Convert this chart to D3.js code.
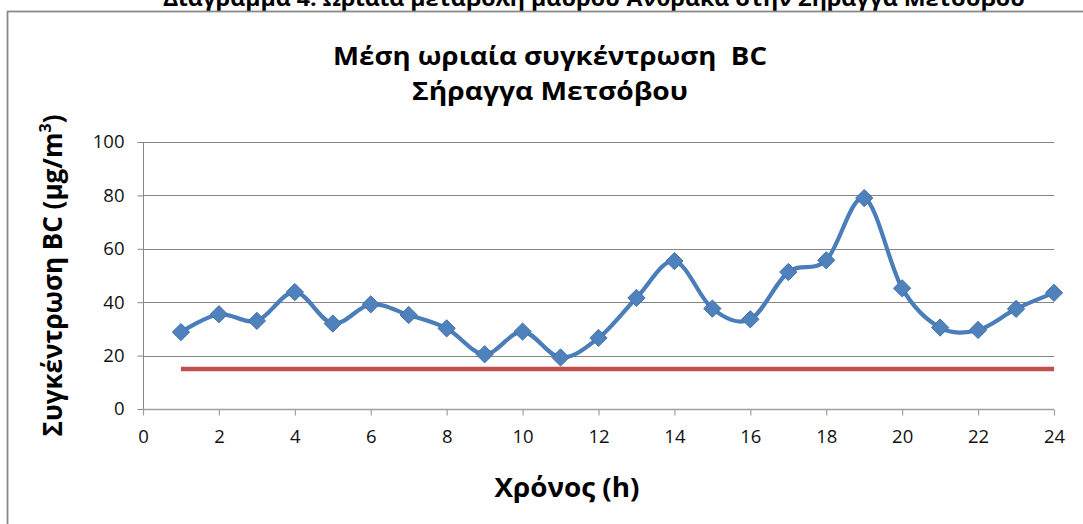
<!DOCTYPE html>
<html>
<head>
<meta charset="utf-8">
<script src="https://cdn.jsdelivr.net/npm/d3@7"></script>
<style>
  html, body { margin: 0; padding: 0; background: #fff; }
  svg { display: block; }
  text { font-family: "Open Sans", "Noto Sans", "DejaVu Sans", sans-serif; white-space: pre; }
</style>
</head>
<body>
<svg id="chart" width="1083" height="524"></svg>
<script>
// ---- data ----
const hours = [1, 2, 3, 4, 5, 6, 7, 8, 9, 10, 11, 12, 13, 14, 15, 16, 17, 18, 19, 20, 21, 22, 23, 24];
const bcValues = [28.8, 35.5, 33.0, 43.8, 32.0, 39.2, 35.2, 30.2, 20.5, 29.0, 19.3, 26.6,
                  41.6, 55.4, 37.6, 33.6, 51.3, 55.7, 79.0, 45.2, 30.5, 29.6, 37.5, 43.5];
const limitValues = [15, 15, 15, 15, 15, 15, 15, 15, 15, 15, 15, 15,
                     15, 15, 15, 15, 15, 15, 15, 15, 15, 15, 15, 15];
const xTicks = [0, 2, 4, 6, 8, 10, 12, 14, 16, 18, 20, 22, 24];
const yTicks = [0, 20, 40, 60, 80, 100];
const headerText = "Διάγραμμα 4. Ωριαία μεταβολή μαύρου Άνθρακα στην Σήραγγα Μετσόβου";
const titleLines = ["Μέση ωριαία συγκέντρωση  BC", "Σήραγγα Μετσόβου"];
const xTitle = "Χρόνος (h)";
const yTitle = "Συγκέντρωση BC (μg/m";

// ---- layout ----
const svg = d3.select("#chart");
const plot = { left: 143, right: 1054, top: 142, bottom: 409 };

const x = d3.scaleLinear().domain([0, 24]).range([plot.left, plot.right]);
const y = d3.scaleLinear().domain([0, 100]).range([plot.bottom, plot.top]);

// header (cut off at top of image, as in the source)
svg.append("text")
  .attr("x", 594).attr("y", 6)
  .attr("text-anchor", "middle")
  .attr("font-size", 21).attr("font-weight", "bold")
  .attr("fill", "#000")
  .attr("textLength", 862).attr("lengthAdjust", "spacingAndGlyphs")
  .text(headerText);

// chart area border
svg.append("rect")
  .attr("x", 7.5).attr("y", 11.5)
  .attr("width", 1200).attr("height", 700)
  .attr("fill", "#fff")
  .attr("stroke", "#8a8a8a").attr("stroke-width", 1.8);

// gridlines
svg.append("g")
  .selectAll("line")
  .data(yTicks.filter(d => d > 0))
  .join("line")
  .attr("x1", plot.left).attr("x2", plot.right)
  .attr("y1", d => Math.round(y(d)) + 0.5).attr("y2", d => Math.round(y(d)) + 0.5)
  .attr("stroke", "#868686").attr("stroke-width", 1);

// y axis
const yAxis = d3.axisLeft(y).tickValues(yTicks).tickSize(6).tickPadding(13).tickFormat(d3.format("d"));
const gy = svg.append("g").attr("transform", `translate(${plot.left + 0.5},0)`).call(yAxis);
gy.select(".domain").attr("stroke", "#868686").attr("d", `M0,${plot.top}V${plot.bottom}`);
gy.selectAll(".tick line").attr("stroke", "#868686");
gy.selectAll(".tick text").attr("font-size", 18.5).attr("fill", "#111")
  .attr("font-family", "\"Open Sans\", sans-serif");

// x axis
const xAxis = d3.axisBottom(x).tickValues(xTicks).tickSize(6).tickPadding(14).tickFormat(d3.format("d"));
const gx = svg.append("g").attr("transform", `translate(0,${plot.bottom + 0.5})`).call(xAxis);
gx.select(".domain").attr("stroke", "#a0a0a0").attr("stroke-width", 1.5).attr("d", `M${plot.left},0H${plot.right}`);
gx.selectAll(".tick line").attr("stroke", "#a0a0a0").attr("stroke-width", 1.2);
gx.selectAll(".tick text").attr("font-size", 18.5).attr("fill", "#111")
  .attr("font-family", "\"Open Sans\", sans-serif");

// limit line
const limitLine = d3.line().x((d, i) => x(hours[i])).y(d => y(d));
svg.append("path")
  .datum(limitValues)
  .attr("d", limitLine)
  .attr("fill", "none")
  .attr("stroke", "#C0504D").attr("stroke-width", 4.5);

// BC smooth line
const bcLine = d3.line().x((d, i) => x(hours[i])).y(d => y(d)).curve(d3.curveCardinal.tension(0));
svg.append("path")
  .datum(bcValues)
  .attr("d", bcLine)
  .attr("fill", "none")
  .attr("stroke", "#4A7EBB").attr("stroke-width", 4.2)
  .attr("stroke-linejoin", "round");

// diamond markers
const diamond = d3.symbol().type(d3.symbolDiamond2).size(190);
svg.append("g")
  .selectAll("path")
  .data(bcValues)
  .join("path")
  .attr("transform", (d, i) => `translate(${x(hours[i])},${y(d)})`)
  .attr("d", diamond)
  .attr("fill", "#4F81BD")
  .attr("stroke", "#4472A8").attr("stroke-width", 1);

// chart title
svg.append("text")
  .attr("x", 550).attr("y", 65)
  .attr("text-anchor", "middle")
  .attr("font-size", 25).attr("font-weight", "bold")
  .attr("textLength", 434).attr("lengthAdjust", "spacingAndGlyphs")
  .text(titleLines[0]);
svg.append("text")
  .attr("x", 550).attr("y", 100)
  .attr("text-anchor", "middle")
  .attr("font-size", 25).attr("font-weight", "bold")
  .attr("textLength", 276).attr("lengthAdjust", "spacingAndGlyphs")
  .text(titleLines[1]);

// x axis title
svg.append("text")
  .attr("x", 567).attr("y", 497)
  .attr("text-anchor", "middle")
  .attr("font-size", 26).attr("font-weight", "bold")
  .attr("textLength", 145).attr("lengthAdjust", "spacingAndGlyphs")
  .text(xTitle);

// y axis title
const yt = svg.append("text")
  .attr("transform", `translate(62,${(plot.top + plot.bottom) / 2}) rotate(-90)`)
  .attr("text-anchor", "middle")
  .attr("font-size", 26).attr("font-weight", "bold");
yt.append("tspan").text(yTitle);
yt.append("tspan").attr("font-size", 16).attr("dy", -11).text("3");
yt.append("tspan").attr("dy", 11).text(")");
</script>
</body>
</html>
